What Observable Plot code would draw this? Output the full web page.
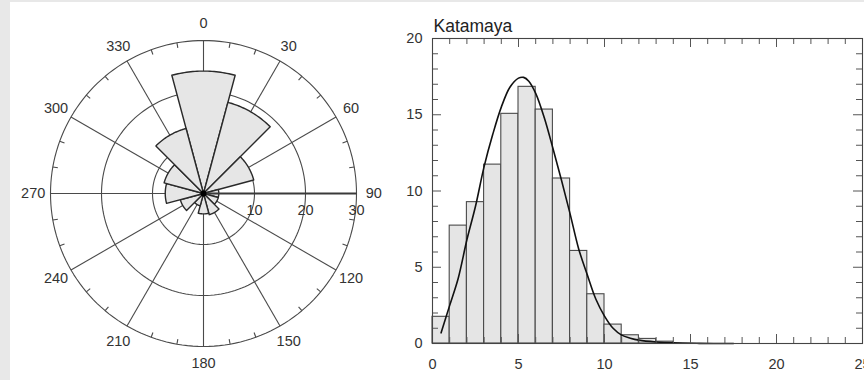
<!DOCTYPE html>
<html><head><meta charset="utf-8">
<script src="https://cdn.jsdelivr.net/npm/d3@7"></script>
<script src="https://cdn.jsdelivr.net/npm/@observablehq/plot@0.6"></script>
<style>
html,body{margin:0;padding:0;background:#fff;}
#wrap{width:854px;height:378px;border-left:10px solid #e8e8e8;border-top:2px solid #e8e8e8;display:flex;overflow:hidden;}
#wrap svg{display:block;flex:none;}
</style></head><body><div id="wrap"></div>
<script>
// ---------- rose diagram data ----------
const petalAngles = [0, 30, 60, 90, 120, 150, 180, 210, 240, 270, 300, 330];
const petalValues = [24, 18.5, 10.2, 3, 3, 4.3, 4, 2.5, 4.7, 7.5, 8, 13.2];
const petalWidth = 30;
const ringValues = [10, 20, 30];
const spokeAngles = [0, 30, 60, 90, 120, 150, 180, 210, 240, 270, 300, 330];
const compassLabels = ["0", "30", "60", "90", "120", "150", "180", "210", "240", "270", "300", "330"];
const rimTickAngles = [10, 20, 40, 50, 70, 80, 100, 110, 130, 140, 160, 170, 190, 200, 220, 230, 250, 260, 280, 290, 310, 320, 340, 350];
const radialLabels = ["10", "20", "30"];

// ---------- histogram data ----------
const binEdges = [0, 1, 2, 3, 4, 5, 6, 7, 8, 9, 10, 11, 12, 13, 14];
const binCounts = [1.75, 7.73, 9.27, 11.73, 15.06, 16.83, 15.34, 10.82, 6.07, 3.23, 1.24, 0.54, 0.3, 0.12];
const fitX = [0.5, 1, 1.5, 2, 2.5, 3, 3.5, 4, 4.5, 5, 5.3, 5.6, 6, 6.5, 7, 7.5, 8, 8.5, 9, 9.5, 10, 10.5, 11, 11.5, 12, 13, 14, 15.5, 17.5];
const fitY = [0.7, 2.5, 4.3, 6.8, 9.0, 11.6, 13.7, 15.5, 16.8, 17.4, 17.45, 17.2, 16.4, 14.8, 12.8, 10.7, 8.5, 6.2, 4.5, 2.9, 1.8, 1.0, 0.55, 0.35, 0.22, 0.1, 0.04, 0.01, 0];
const xTickLabels = [0, 5, 10, 15, 20, 25];
const yTickLabels = [0, 5, 10, 15, 20];
const xMinorTicks = [1,2,3,4,6,7,8,9,11,12,13,14,16,17,18,19,21,22,23,24];
const yMinorTicks = [1,2,3,4,6,7,8,9,11,12,13,14,16,17,18,19];
const xMajorTicks = [5, 10, 15, 20];
const yMajorTicks = [5, 10, 15];
const title = "Katamaya";

const FONT = '"Liberation Sans", Arial, Helvetica, sans-serif';
const rad = d => d * Math.PI / 180;
const px = (r, a) => r * Math.sin(rad(a));
const py = (r, a) => r * Math.cos(rad(a));

// ---------- rose diagram ----------
const W1 = 390, H1 = 378, CX = 193, CY = 191, S = 153 / 30;
const ringRows = [];
ringValues.forEach(r => { for (let a = 0; a < 360; a += 2) ringRows.push({ring: r, x: px(r, a), y: py(r, a)}); });
const petalRows = [];
petalAngles.forEach((a0, i) => {
  const r = petalValues[i];
  petalRows.push({petal: i, x: 0, y: 0});
  for (let a = a0 - petalWidth / 2; a <= a0 + petalWidth / 2 + 1e-9; a += 1) petalRows.push({petal: i, x: px(r, a), y: py(r, a)});
});
const outer = ringValues[ringValues.length - 1];

const rose = Plot.plot({
  width: W1, height: H1, margin: 0,
  x: {domain: [-CX / S, (W1 - CX) / S], range: [0, W1], axis: null},
  y: {domain: [-(H1 - CY) / S, CY / S], range: [H1, 0], axis: null},
  style: {fontFamily: FONT, fontSize: "14.5px", color: "#333", background: "transparent"},
  marks: [
    Plot.line(ringRows, {x: "x", y: "y", z: "ring", curve: "linear-closed", stroke: "#4a4a4a", strokeWidth: 1.1}),
    Plot.link(spokeAngles, {x1: () => 0, y1: () => 0, x2: a => px(outer, a), y2: a => py(outer, a), stroke: "#4a4a4a", strokeWidth: 1.1}),
    Plot.link(rimTickAngles, {x1: a => px(outer - 1, a), y1: a => py(outer - 1, a), x2: a => px(outer, a), y2: a => py(outer, a), stroke: "#4a4a4a", strokeWidth: 1.1}),
    Plot.line(petalRows, {x: "x", y: "y", z: "petal", curve: "linear-closed", fill: "#e6e6e6", stroke: "#2a2a2a", strokeWidth: 1.4}),
    Plot.link([90], {x1: () => 0, y1: () => 0, x2: a => px(outer, a), y2: a => py(outer, a), stroke: "#3a3a3a", strokeWidth: 1.8}),
    Plot.dot([0], {x: () => 0, y: () => 0, r: 3, fill: "#000", stroke: "none"}),
    Plot.text(spokeAngles, {x: a => px(33.4, a), y: a => py(33.4, a), text: (a, i) => compassLabels[i], fill: "#333", textAnchor: "middle", lineAnchor: "middle"}),
    Plot.text(ringValues, {x: r => r, y: () => -3.35, text: (r, i) => radialLabels[i], fill: "#333", textAnchor: "middle", lineAnchor: "middle"})
  ]
});

// ---------- histogram ----------
const W2 = 464, H2 = 378, ML = 32, MR = 2, MT = 36, MB = 37;
const FH = H2 - MT - MB, FW = W2 - ML - MR;
const bars = binCounts.map((c, i) => ({x1: binEdges[i], x2: binEdges[i] + 1, c}));
const fit = fitX.map((x, i) => ({x, y: fitY[i]}));
const minorLen = 6, majorLen = 9;

const hist = Plot.plot({
  width: W2, height: H2, marginLeft: ML, marginRight: MR, marginTop: MT, marginBottom: MB,
  x: {domain: [0, 25], axis: null},
  y: {domain: [0, 20], axis: null},
  style: {fontFamily: FONT, fontSize: "14.5px", color: "#333", background: "transparent", overflow: "visible"},
  marks: [
    Plot.rect(bars, {x1: "x1", x2: "x2", y1: () => 0, y2: "c", fill: "#e5e5e5", stroke: "#4a4a4a", strokeWidth: 1.1}),
    Plot.line(fit, {x: "x", y: "y", curve: "catmull-rom", stroke: "#111", strokeWidth: 1.6}),
    Plot.tickX(xMinorTicks, {x: d => d, insetTop: FH - minorLen, stroke: "#555"}),
    Plot.tickX(xMinorTicks, {x: d => d, insetBottom: FH - minorLen, stroke: "#555"}),
    Plot.tickX(xMajorTicks, {x: d => d, insetTop: FH - majorLen, stroke: "#555"}),
    Plot.tickX(xMajorTicks, {x: d => d, insetBottom: FH - majorLen, stroke: "#555"}),
    Plot.tickY(yMinorTicks, {y: d => d, insetRight: FW - minorLen, stroke: "#555"}),
    Plot.tickY(yMinorTicks, {y: d => d, insetLeft: FW - minorLen, stroke: "#555"}),
    Plot.tickY(yMajorTicks, {y: d => d, insetRight: FW - majorLen, stroke: "#555"}),
    Plot.tickY(yMajorTicks, {y: d => d, insetLeft: FW - majorLen, stroke: "#555"}),
    Plot.frame({stroke: "#444", strokeWidth: 1.1}),
    Plot.axisX(xTickLabels, {anchor: "bottom", tickSize: 0, tickPadding: 15, label: null, fill: "#333"}),
    Plot.axisY(yTickLabels, {anchor: "left", tickSize: 0, tickPadding: 10, label: null, fill: "#333"}),
    Plot.text([title], {frameAnchor: "top-left", dy: -7, dx: 1, textAnchor: "start", lineAnchor: "bottom", text: d => d, fontSize: 17.5, fill: "#222"})
  ]
});

const wrap = document.getElementById("wrap");
wrap.appendChild(rose);
wrap.appendChild(hist);
</script>
</body></html>
